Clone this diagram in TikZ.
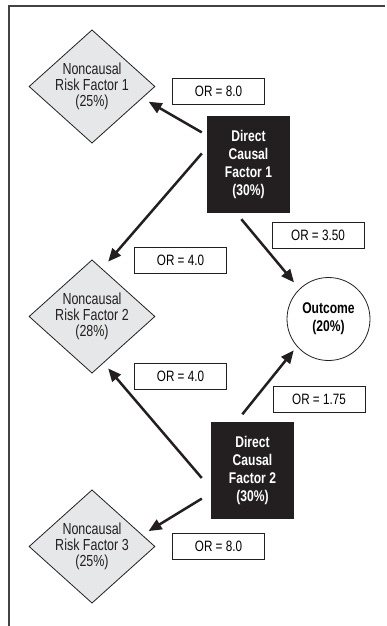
\documentclass[tikz,border=0pt]{standalone}
\usepackage{fontspec}
\setmainfont{Liberation Sans}[FakeStretch=0.78]
\usetikzlibrary{shapes.geometric,arrows.meta}
\definecolor{boxfill}{HTML}{231F20}
\definecolor{diamfill}{HTML}{E6E7E8}
\definecolor{inkc}{HTML}{231F20}
\tikzset{
  diam/.style={shape=diamond, draw=inkc, fill=diamfill, line width=0.8pt,
    minimum width=126pt, minimum height=113pt, inner sep=0pt, aspect=1.1,
    align=center, text=inkc, font={\fontsize{16}{15.8}\selectfont}},
  causal/.style={rectangle, fill=boxfill, text=white, minimum width=83pt,
    minimum height=97pt, inner sep=0pt, align=center,
    font={\fontsize{15.5}{18}\selectfont\bfseries}},
  orbox/.style={rectangle, draw=inkc, line width=0.8pt, fill=white,
    minimum width=92pt, minimum height=26pt, inner sep=0pt,
    font={\fontsize{15}{16}\selectfont}},
  outc/.style={circle, draw=inkc, line width=0.8pt, minimum size=83pt,
    inner sep=0pt, align=center, font={\fontsize{15.5}{18}\selectfont\bfseries}},
  arr/.style={draw=inkc, line width=2.5pt, -{Triangle[length=13pt,width=11pt]}},
  frameline/.style={draw=inkc!85, line width=1.3pt}
}
\begin{document}
\begin{tikzpicture}[x=1pt,y=-1pt]
\useasboundingbox (0,0) rectangle (386,626);
\draw[frameline] (9,626) -- (9,6) -- (385,6);

\node[diam] (d1) at (92,86.5) {Noncausal\\Risk Factor 1\\(25\%)};
\node[diam] (d2) at (92,316.5) {Noncausal\\Risk Factor 2\\(28\%)};
\node[diam] (d3) at (92,546.5) {Noncausal\\Risk Factor 3\\(25\%)};

\node[causal] (c1) at (248.5,164.5) {Direct\\Causal\\Factor 1\\(30\%)};
\node[causal] (c2) at (252.5,470) {Direct\\Causal\\Factor 2\\(30\%)};

\node[outc] (out) at (328.5,319) {Outcome\\(20\%)};

\node[orbox] (or1) at (218.5,91) {OR = 8.0};
\node[orbox] (or2) at (318,235) {OR = 3.50};
\node[orbox] (or3) at (180.5,260) {OR = 4.0};
\node[orbox] (or4) at (180.5,376) {OR = 4.0};
\node[orbox] (or5) at (319,399) {OR = 1.75};
\node[orbox] (or6) at (218.5,546) {OR = 8.0};

\draw[arr, shorten <=5.8pt, shorten >=7.2pt] (c1.145.4) -- (d1.-13.5);
\draw[arr, shorten <=7.6pt, shorten >=9.2pt] (c1.158.6) -- (d2.78.2);
\draw[arr, shorten <=7.8pt, shorten >=8.4pt] (c1.-104.4) -- (out.134.6);
\draw[arr, shorten <=13.9pt, shorten >=7pt] (c2.204) -- (d2.-76.05);
\draw[arr, shorten <=9pt, shorten >=5pt] (c2.108.5) -- (out.-139.2);
\draw[arr, shorten <=10.5pt, shorten >=7.2pt] (c2.209.7) -- (d3.13.36);
\end{tikzpicture}
\end{document}
